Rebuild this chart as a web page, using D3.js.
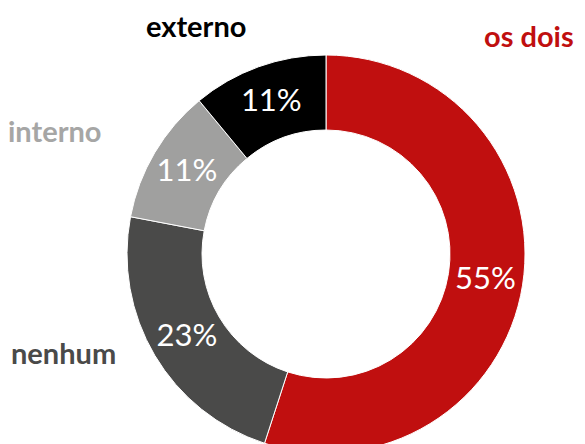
<!DOCTYPE html>
<html>
<head>
<meta charset="utf-8">
<script src="https://cdn.jsdelivr.net/npm/d3@7"></script>
<style>
  body { margin: 0; background: #fff; }
  svg text { font-family: Lato, "Open Sans", sans-serif; }
</style>
</head>
<body>
<div id="container"></div>
<script>

var width = 585;

var height = 444;

// data, clockwise from 12 o'clock
var categories = ["os dois", "nenhum", "interno", "externo"];

var values = [55, 23, 11, 11];

var colors = ["#c00f0f", "#4a4a49", "#a0a09f", "#000000"];

var labelColors = ["#c00f0f", "#4a4a49", "#a6a6a5", "#000000"];

// where the category names sit
var namePos = {
    "os dois" : [484, 47],
    "nenhum" : [11, 364],
    "interno" : [8, 142],
    "externo" : [146, 37]
};

var cx = 326, cy = 254;

var outerR = 199, innerR = 124;

var svg = d3.select("#container")
    .append("svg")
    .attr("width", width)
    .attr("height", height);

var pie = d3.pie()
    .sort(null)
    .value(function(d){ return d; });

var arc = d3.arc()
    .innerRadius(innerR)
    .outerRadius(outerR);

var g = svg.append("g")
    .attr("transform", "translate(" + cx + "," + cy + ")");

var arcs = pie(values);

g.selectAll(".slice")
    .data(arcs)
    .enter()
    .append("path")
    .attr("class", "slice")
    .attr("d", arc)
    .attr("fill", function(d, i){ return colors[i]; })
    .attr("stroke", "#fff")
    .attr("stroke-width", 1);

g.selectAll(".pct")
    .data(arcs)
    .enter()
    .append("text")
    .attr("class", "pct")
    .attr("x", function(d){ return arc.centroid(d)[0]; })
    .attr("y", function(d){ return arc.centroid(d)[1]; })
    .attr("dy", "0.3em")
    .attr("text-anchor", "middle")
    .attr("fill", "#fff")
    .style("font-size", "31px")
    .text(function(d){ return d.data + "%"; });

svg.selectAll(".name")
    .data(categories)
    .enter()
    .append("text")
    .attr("class", "name")
    .attr("x", function(d){ return namePos[d][0]; })
    .attr("y", function(d){ return namePos[d][1]; })
    .attr("fill", function(d, i){ return labelColors[i]; })
    .style("font-size", "29px")
    .style("font-weight", "bold")
    .text(function(d){ return d; });

</script>
</body>
</html>
